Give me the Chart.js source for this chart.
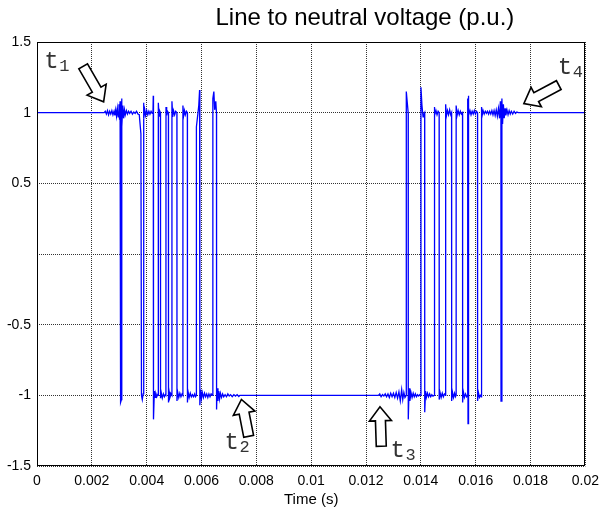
<!DOCTYPE html>
<html lang="en">
<head>
  <meta charset="UTF-8" />
  <title>Line to neutral voltage (p.u.)</title>
  <script src="https://cdn.jsdelivr.net/npm/chart.js"></script>
  <style>
    body { margin: 0; background: #fff; }
    #wrap { width: 606px; height: 515px; }
  </style>
</head>
<body>
<div id="wrap"><canvas id="lnChart" width="606" height="515"></canvas></div>

<script>
  // axis ticks
  const xTicks = [0, 0.002, 0.004, 0.006, 0.008, 0.01, 0.012, 0.014, 0.016, 0.018, 0.02];
  const yTicks = [-1.5, -1, -0.5, 0, 0.5, 1, 1.5];

  // [time (s), voltage (p.u.)]
  const steadyStart = [[0, 1], [0.00245, 1]];

  const burstOne = [
    [0.00249, 1.01], [0.00253, 0.99], [0.00257, 1.015], [0.00261, 0.985], [0.00265, 1.01],
    [0.00269, 0.99], [0.00273, 1.015], [0.00277, 0.985], [0.00281, 1.01], [0.00284, 0.98],
    [0.00287, 1.02], [0.00290, 0.975], [0.00293, 1.03], [0.00296, 0.97], [0.00299, 1.06],
    [0.00301, 0.95], [0.00303, 1.08], [0.003047, 1.0], [0.00305, -1.05], [0.00308, -1.03],
    [0.003084, 1.1], [0.00310, 0.9], [0.00313, 1.05], [0.00316, 0.96], [0.00319, 1.02],
    [0.00322, 0.985], [0.00326, 1.015], [0.00330, 0.99], [0.00334, 1.01], [0.00338, 0.995],
    [0.00343, 1.01], [0.00348, 0.99], [0.00353, 1.005], [0.00358, 0.995], [0.00363, 1.01],
    [0.00368, 0.99], [0.00373, 0.985], [0.00379, 0.85], [0.003811, -1.0], [0.00384, -1.03],
    [0.00387, -0.99], [0.003884, 1.07], [0.00390, 0.96], [0.00393, 1.02], [0.00396, 0.98],
    [0.00400, 1.015], [0.00404, 0.985], [0.00408, 1.01], [0.00412, 0.99], [0.00416, 1.01],
    [0.00420, 0.995], [0.00423, 1.005], [0.00424, 1.12], [0.004247, 1.0], [0.00425, -1.17],
    [0.00428, -0.97], [0.00431, -1.015], [0.00434, -0.99], [0.00437, -1.01], [0.00440, -0.995],
    [0.004422, -1.0], [0.004425, 1.07], [0.00445, 0.975], [0.00448, 1.01], [0.004502, 1.0],
    [0.004505, -1.02], [0.00453, -0.98], [0.00457, -1.02], [0.00461, -0.99], [0.00465, -1.01],
    [0.00468, -0.995], [0.004702, -1.0], [0.004705, 1.04], [0.00473, 0.98], [0.00476, 1.01],
    [0.004793, 1.0], [0.004796, -1.05], [0.00482, -0.975], [0.00485, -1.015], [0.00489, -0.99],
    [0.00492, -1.0], [0.004923, 1.08], [0.00495, 0.97], [0.00498, 1.015], [0.00502, 0.985],
    [0.00506, 1.01], [0.005102, 1.0], [0.005105, -1.04], [0.00513, -0.975], [0.00517, -1.015],
    [0.00521, -0.985], [0.00525, -1.01], [0.00529, -0.99], [0.00532, -1.0], [0.005323, 1.05],
    [0.00535, 0.98], [0.00538, 1.015], [0.00541, 0.985], [0.00545, 1.01], [0.005484, 1.0],
    [0.005487, -1.05], [0.00551, -0.975], [0.00555, -1.015], [0.00559, -0.985], [0.00563, -1.01],
    [0.00567, -0.995], [0.00571, -1.01], [0.00575, -0.99], [0.00578, -1.01], [0.005811, -1.0],
    [0.005814, 0.9], [0.00590, 1.05], [0.00593, 1.16], [0.005938, 1.0], [0.005941, -1.07],
    [0.00597, -0.96], [0.00600, -1.02], [0.00603, -0.98], [0.00607, -1.015], [0.00611, -0.985],
    [0.00615, -1.01], [0.00619, -0.99], [0.00623, -1.015], [0.00627, -0.99], [0.00631, -1.01],
    [0.00635, -0.99], [0.006411, -1.0], [0.006414, 1.10], [0.00645, 1.15], [0.00648, 1.02],
    [0.00652, 1.08], [0.006546, 1.0], [0.006549, -1.1], [0.00657, -0.95], [0.00660, -1.04],
    [0.00663, -0.97], [0.00666, -1.025], [0.00669, -0.985], [0.00673, -1.015], [0.00677, -0.99],
    [0.00681, -1.01], [0.00686, -0.995], [0.00691, -1.01], [0.00696, -0.99], [0.00701, -1.005],
    [0.00706, -0.995], [0.00712, -1.01], [0.00718, -0.995], [0.00724, -1.005], [0.00730, -0.995],
    [0.00736, -1.008], [0.00740, -1.0]
  ];

  const steadyMid = [[0.01245, -1]];

  const burstTwo = [
    [0.01250, -0.99], [0.01255, -1.01], [0.01260, -0.995], [0.01265, -1.005], [0.01270, -0.99],
    [0.01275, -1.01], [0.01280, -0.99], [0.01285, -1.015], [0.01290, -0.985], [0.01295, -1.01],
    [0.01300, -0.985], [0.01305, -1.015], [0.01310, -0.98], [0.01315, -1.02], [0.01320, -0.975],
    [0.01325, -1.04], [0.01330, -0.96], [0.01334, -1.03], [0.01338, -0.98], [0.01342, -1.015],
    [0.013466, -1.0], [0.013469, 1.15], [0.01350, 1.08], [0.013538, 1.0], [0.013541, -1.17],
    [0.01357, -0.95], [0.01360, -1.04], [0.01364, -0.98], [0.01368, -1.015], [0.01372, -0.985],
    [0.01376, -1.01], [0.01380, -0.99], [0.01384, -1.01], [0.01388, -0.995], [0.01392, -1.005],
    [0.01396, -0.995], [0.014, -1.0], [0.014003, 1.18], [0.01404, 1.05], [0.01408, 0.97],
    [0.01411, 0.99], [0.014138, 1.0], [0.014141, -1.12], [0.01417, -0.97], [0.01420, -1.015],
    [0.01424, -0.985], [0.01428, -1.01], [0.01432, -0.99], [0.01436, -1.01], [0.01440, -0.995],
    [0.01444, -1.005], [0.014484, -1.0], [0.014487, 1.04], [0.01451, 0.98], [0.01455, 1.015],
    [0.01459, 0.985], [0.01463, 1.01], [0.014666, 1.0], [0.014669, -1.03], [0.01470, -0.98],
    [0.01474, -1.015], [0.01478, -0.985], [0.01482, -1.01], [0.01486, -0.99], [0.014902, -1.0],
    [0.014905, 1.06], [0.01493, 0.975], [0.01497, 1.015], [0.01501, 0.985], [0.01505, 1.02],
    [0.01509, 0.985], [0.01512, 1.0], [0.015123, -1.04], [0.01515, -0.975], [0.01519, -1.015],
    [0.01523, -0.985], [0.01526, -1.01], [0.015284, -1.0], [0.015287, 1.05], [0.01532, 0.98],
    [0.01536, 1.015], [0.01540, 0.985], [0.01544, 1.01], [0.01548, 0.99], [0.01552, 1.0],
    [0.015523, -1.05], [0.01555, -0.975], [0.01559, -1.015], [0.01563, -0.99], [0.01567, -1.01],
    [0.015702, -1.0], [0.015705, 1.1], [0.015712, 1.0], [0.01572, -1.2], [0.015728, 1.12],
    [0.01575, 0.98], [0.01579, 1.015], [0.01583, 0.985], [0.01587, 1.01], [0.01591, 0.99],
    [0.01595, 1.015], [0.01599, 0.99], [0.01603, 1.01], [0.016066, 1.0], [0.016069, -1.04],
    [0.01610, -0.98], [0.01614, -1.015], [0.01618, -1.0], [0.016211, -1.01], [0.016214, 1.04],
    [0.01624, 0.985], [0.01627, 1.015], [0.01631, 0.99], [0.01635, 1.01], [0.01639, 0.995],
    [0.01643, 1.01], [0.01647, 0.99], [0.01651, 1.01], [0.01655, 0.99], [0.01659, 1.015],
    [0.01663, 0.985], [0.01667, 1.015], [0.01671, 0.98], [0.01675, 1.02], [0.01679, 0.975],
    [0.01683, 1.03], [0.01687, 0.96], [0.0169, 1.08], [0.01692, 1.0], [0.016923, -1.04],
    [0.016954, -1.0], [0.016957, 1.1], [0.01698, 0.92], [0.01701, 1.06], [0.01704, 0.96],
    [0.01707, 1.03], [0.01710, 0.98], [0.01714, 1.02], [0.01718, 0.985], [0.01722, 1.015],
    [0.01726, 0.99], [0.01730, 1.01], [0.01735, 0.99], [0.01740, 1.01], [0.01745, 0.995],
    [0.01750, 1.005], [0.01755, 1.0]
  ];

  const steadyEnd = [[0.02, 1]];

  // instant markers: tip and tail of the hollow arrows, and label anchor (data coords)
  const markerNames = ['1', '2', '3', '4'];
  const markerTip = [[0.00243, 1.077], [0.007455, -1.029], [0.012509, -1.081], [0.017756, 1.064]];
  const markerTail = [[0.001684, 1.328], [0.00772, -1.29], [0.012556, -1.36], [0.019029, 1.195]];
  const markerLabel = [[0.000338, 1.314], [0.006909, -1.38], [0.012967, -1.435], [0.019065, 1.277]];

  const titleText = 'Line to neutral voltage (p.u.)';
  const xTitle = 'Time (s)';

  const series = [...steadyStart, ...burstOne, ...steadyMid, ...burstTwo, ...steadyEnd]
    .map(([t, v]) => ({ x: t, y: v }));

  function drawArrow(ctx, tip, tail) {
    const dx = tip.x - tail.x, dy = tip.y - tail.y;
    const L = Math.hypot(dx, dy);
    const sw = 10, hw = 22, hl = 14;
    ctx.save();
    ctx.translate(tail.x, tail.y);
    ctx.rotate(Math.atan2(dy, dx));
    ctx.beginPath();
    ctx.moveTo(0, -sw / 2);
    ctx.lineTo(L - hl, -sw / 2);
    ctx.lineTo(L - hl, -hw / 2);
    ctx.lineTo(L, 0);
    ctx.lineTo(L - hl, hw / 2);
    ctx.lineTo(L - hl, sw / 2);
    ctx.lineTo(0, sw / 2);
    ctx.closePath();
    ctx.fillStyle = '#fff';
    ctx.fill();
    ctx.lineWidth = 1.6;
    ctx.strokeStyle = '#000';
    ctx.stroke();
    ctx.restore();
  }

  const extras = {
    id: 'extras',
    afterDraw(chart) {
      const { ctx, chartArea: a, scales: { x, y } } = chart;
      ctx.save();
      // solid box round the plot
      ctx.strokeStyle = '#000';
      ctx.lineWidth = 1;
      ctx.strokeRect(Math.round(a.left) + 0.5, Math.round(a.top) + 0.5,
        Math.round(a.right - a.left) - 1, Math.round(a.bottom - a.top) - 1);

      // title
      ctx.fillStyle = '#000';
      ctx.font = '24px "Liberation Sans", Arial, sans-serif';
      ctx.textAlign = 'center';
      ctx.textBaseline = 'middle';
      ctx.fillText(titleText, a.left + (a.right - a.left) * 0.598, 18);

      // arrows + labels
      markerNames.forEach((n, i) => {
        const tip = { x: x.getPixelForValue(markerTip[i][0]), y: y.getPixelForValue(markerTip[i][1]) };
        const tail = { x: x.getPixelForValue(markerTail[i][0]), y: y.getPixelForValue(markerTail[i][1]) };
        drawArrow(ctx, tip, tail);
        const lx = x.getPixelForValue(markerLabel[i][0]);
        const ly = y.getPixelForValue(markerLabel[i][1]);
        ctx.fillStyle = '#333';
        ctx.textAlign = 'left';
        ctx.textBaseline = 'alphabetic';
        ctx.font = '24px "Liberation Mono", monospace';
        ctx.fillText('t', lx - 2, ly);
        ctx.font = '17px "Liberation Mono", monospace';
        ctx.fillText(n, lx + 13, ly + 3);
      });
      ctx.restore();
    }
  };

  const gridStyle = {
    color: '#333',
    lineWidth: 1,
    drawTicks: false
  };

  new Chart(document.getElementById('lnChart').getContext('2d'), {
    type: 'line',
    data: {
      datasets: [{
        data: series,
        borderColor: '#0000ff',
        borderWidth: 1.3,
        pointRadius: 0,
        tension: 0,
        fill: false
      }]
    },
    options: {
      responsive: false,
      animation: false,
      layout: { padding: { top: 42, right: 19, left: 0, bottom: 0 } },
      plugins: { legend: { display: false }, tooltip: { enabled: false } },
      scales: {
        x: {
          type: 'linear',
          min: 0,
          max: 0.02,
          afterFit: s => { s.height = 49; },
          afterBuildTicks: s => { s.ticks = xTicks.map(v => ({ value: v })); },
          grid: gridStyle,
          border: { display: false, dash: [1, 1] },
          ticks: {
            color: '#000',
            padding: 7,
            maxRotation: 0,
            autoSkip: false,
            font: { family: '"Liberation Sans", Arial, sans-serif', size: 14 },
            callback: v => String(Number(v.toFixed(3)))
          },
          title: {
            display: true,
            text: xTitle,
            color: '#000',
            padding: { top: 0, bottom: 6 },
            font: { family: '"Liberation Sans", Arial, sans-serif', size: 15 }
          }
        },
        y: {
          min: -1.5,
          max: 1.5,
          afterFit: s => { s.width = 37; },
          afterBuildTicks: s => { s.ticks = yTicks.map(v => ({ value: v })); },
          grid: gridStyle,
          border: { display: false, dash: [1, 1] },
          ticks: {
            color: '#000',
            padding: 6,
            autoSkip: false,
            font: { family: '"Liberation Sans", Arial, sans-serif', size: 14 },
            callback: v => v === 0 ? '' : String(v)
          }
        }
      }
    },
    plugins: [extras]
  });
</script>
</body>
</html>
